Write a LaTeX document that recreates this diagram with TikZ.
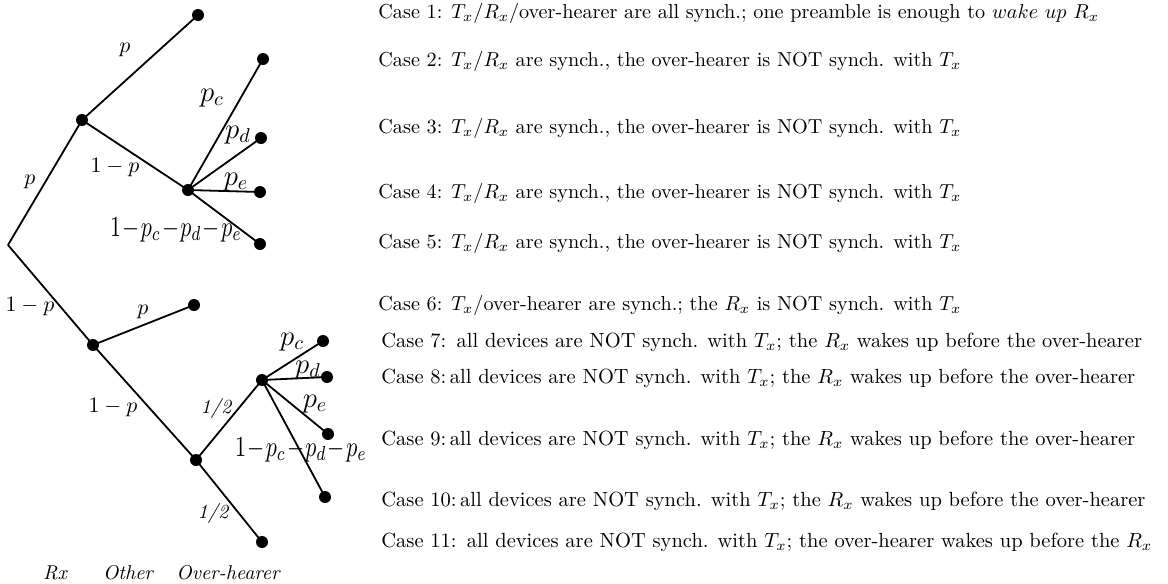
\documentclass[tikz,border=0pt]{standalone}
\usepackage{graphicx}
\begin{document}
\begin{tikzpicture}[x=0.5pt,y=-0.5pt,
  dot/.style={circle,fill=black,inner sep=0pt,minimum size=6pt},
  edge/.style={line width=0.9pt},
  lab/.style={inner sep=0pt,font=\fontsize{10.95}{13}\selectfont},
  biglab/.style={inner sep=0pt,font=\Large},
  sumlab/.style={inner sep=0pt},
  halflab/.style={inner sep=0pt,font=\itshape},
  axislab/.style={inner sep=0pt,font=\itshape},
  case/.style={anchor=west,inner sep=0pt}]
\useasboundingbox (0,0) rectangle (1168,584);
% tree nodes
\coordinate (r) at (8,245);
\node[dot] (a) at (82,120) {};
\node[dot] (a1) at (198,15) {};
\node[dot] (b) at (188,190) {};
\node[dot] (b1) at (263,59) {};
\node[dot] (b2) at (261,138) {};
\node[dot] (b3) at (260,192) {};
\node[dot] (b4) at (260,244) {};
\node[dot] (c) at (93,345) {};
\node[dot] (c1) at (194,305) {};
\node[dot] (d) at (196,460) {};
\node[dot] (e) at (262,380) {};
\node[dot] (e1) at (323,341) {};
\node[dot] (e2) at (327,377) {};
\node[dot] (e3) at (328,434) {};
\node[dot] (e4) at (325,497) {};
\node[dot] (d1) at (262,542) {};
% edges
\draw[edge] (r) -- (a.center) -- (a1.center);
\draw[edge] (a.center) -- (b.center);
\foreach \t in {b1,b2,b3,b4} \draw[edge] (b.center) -- (\t.center);
\draw[edge] (r) -- (c.center) -- (c1.center);
\draw[edge] (c.center) -- (d.center) -- (e.center);
\draw[edge] (d.center) -- (d1.center);
\foreach \t in {e1,e2,e3,e4} \draw[edge] (e.center) -- (\t.center);
% edge labels
\node[lab] (lp1) at (125,50) {$p$};
\node[lab] (lp2) at (30,182) {$p$};
\node[lab] (lq1) at (115,168) {$1-p$};
\node[biglab] (lpc1) at (212,98) {$p_c$};
\node[biglab] (lpd1) at (238,135) {$p_d$};
\node[biglab] (lpe1) at (236,182) {$p_e$};
\node[sumlab] (ls1) at (176,230) {\scalebox{1.1}[1.45]{$1\!-\!p_c\!-\!p_d\!-\!p_e$}};
\node[lab] (lq2) at (30,307) {$1-p$};
\node[lab] (lp3) at (143,312) {$p$};
\node[lab] (lq3) at (113,408) {$1-p$};
\node[halflab] (lh1) at (216,408) {1/2};
\node[halflab] (lh2) at (213,513) {1/2};
\node[biglab] (lpc2) at (292,342) {$p_c$};
\node[biglab] (lpd2) at (308,370) {$p_d$};
\node[biglab] (lpe2) at (315,404) {$p_e$};
\node[sumlab] (ls2) at (301,450) {\scalebox{1.1}[1.45]{$1\!-\!p_c\!-\!p_d\!-\!p_e$}};
% axis labels
\node[axislab] (rx) at (55,573) {Rx};
\node[axislab] (other) at (128,573) {Other};
\node[axislab] (oh) at (228,573) {Over-hearer};
% cases
\node[case] (k1) at (378,13) {\scalebox{1.01}{Case 1: $T_x/R_x/$over-hearer are all synch.; one preamble is enough to $wake\ up$ $R_x$}};
\node[case] (k2) at (378,61) {\scalebox{1.01}{Case 2: $T_x/R_x$ are synch., the over-hearer is NOT synch. with $T_x$}};
\node[case] (k3) at (378,128) {\scalebox{1.01}{Case 3: $T_x/R_x$ are synch., the over-hearer is NOT synch. with $T_x$}};
\node[case] (k4) at (378,193) {\scalebox{1.01}{Case 4: $T_x/R_x$ are synch., the over-hearer is NOT synch. with $T_x$}};
\node[case] (k5) at (378,243) {\scalebox{1.01}{Case 5: $T_x/R_x$ are synch., the over-hearer is NOT synch. with $T_x$}};
\node[case] (k6) at (378,305) {\scalebox{1.01}{Case 6: $T_x/$over-hearer are synch.; the $R_x$ is NOT synch. with $T_x$}};
\node[case] (k7) at (381,342) {\scalebox{1.025}{Case 7:\ \,all devices are NOT synch. with $T_x$; the $R_x$ wakes up before the over-hearer}};
\node[case] (k8) at (381,378) {\scalebox{1.025}{Case 8:\,all devices are NOT synch. with $T_x$; the $R_x$ wakes up before the over-hearer}};
\node[case] (k9) at (381,440) {\scalebox{1.025}{Case 9:\,all devices are NOT synch. with $T_x$; the $R_x$ wakes up before the over-hearer}};
\node[case] (k10) at (381,501) {\scalebox{1.025}{Case 10:\,all devices are NOT synch. with $T_x$; the $R_x$ wakes up before the over-hearer}};
\node[case] (k11) at (381,542) {\scalebox{1.025}{Case 11:\ \,all devices are NOT synch. with $T_x$; the over-hearer wakes up before the $R_x$}};
\end{tikzpicture}
\end{document}
